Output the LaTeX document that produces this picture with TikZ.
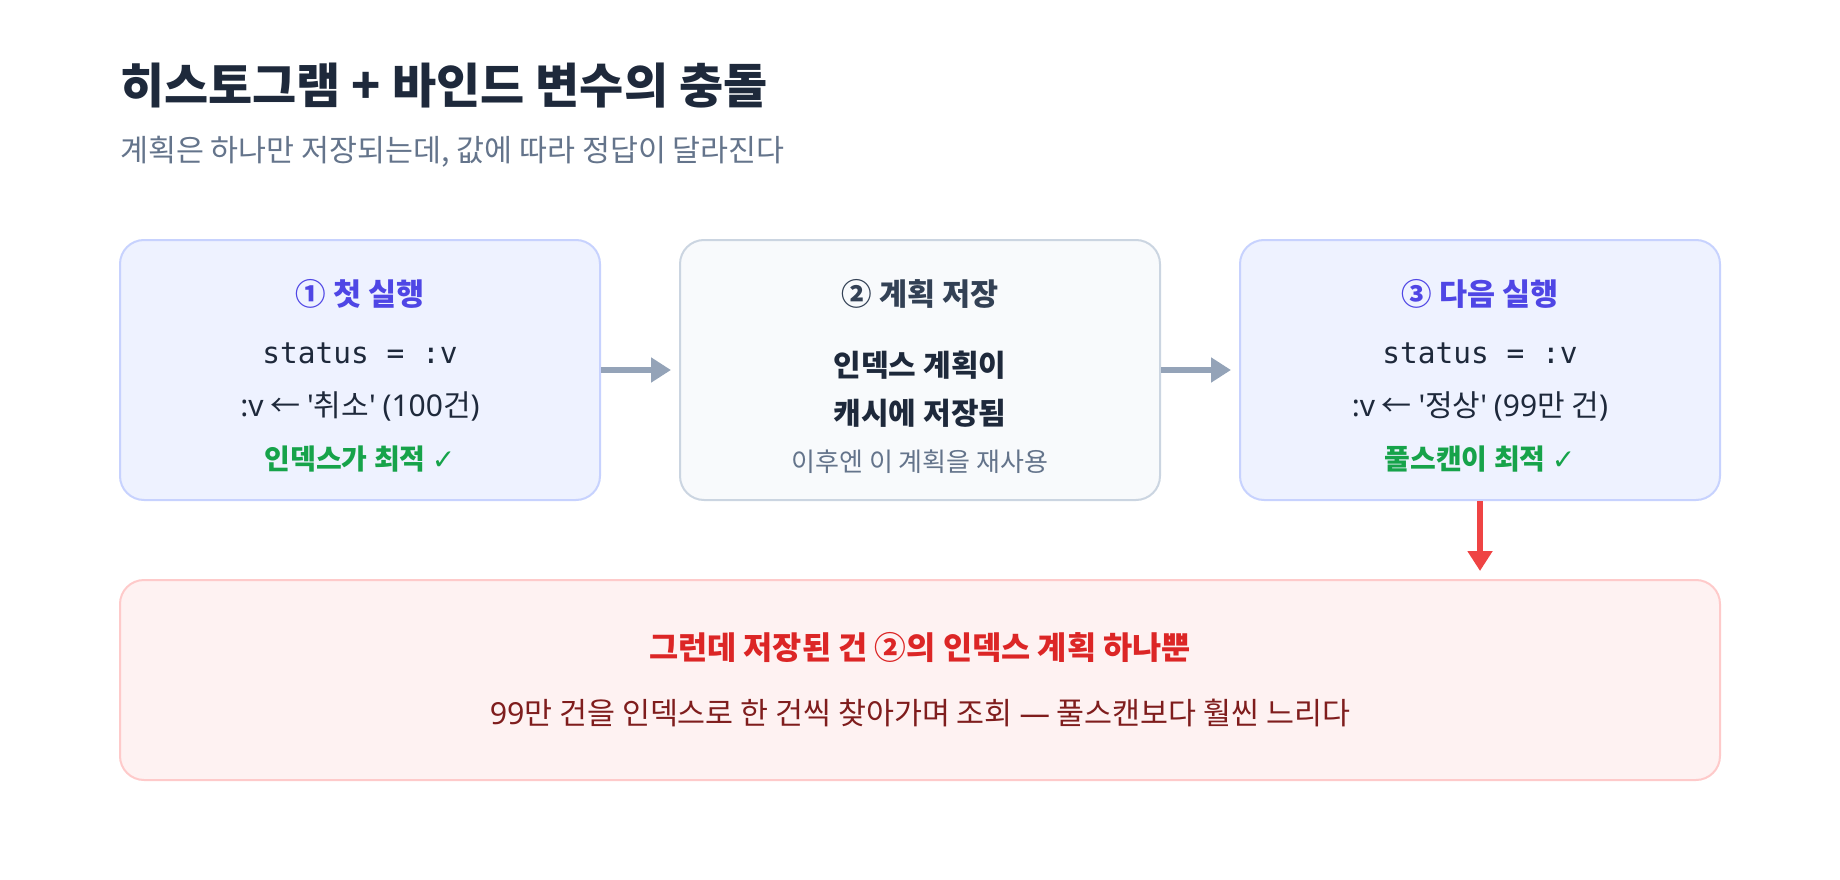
\documentclass[tikz,border=0pt]{standalone}
\usepackage{fontspec}
\setmainfont{Noto Sans CJK KR}
\newfontfamily\codefont{DejaVu Sans Mono}
\newfontfamily\tickfont{DejaVu Sans}
\newfontfamily\latfont{Noto Sans}
\usetikzlibrary{arrows.meta}

\definecolor{inkdark}{HTML}{1E293B}
\definecolor{inkslate}{HTML}{334155}
\definecolor{inkgray}{HTML}{64748B}
\definecolor{runfill}{HTML}{EEF2FF}
\definecolor{runline}{HTML}{C7D2FE}
\definecolor{runhead}{HTML}{4F46E5}
\definecolor{planfill}{HTML}{F8FAFC}
\definecolor{planline}{HTML}{CBD5E1}
\definecolor{okgreen}{HTML}{16A34A}
\definecolor{flowgray}{HTML}{94A3B8}
\definecolor{alarmred}{HTML}{EF4444}
\definecolor{warnfill}{HTML}{FEF2F2}
\definecolor{warnline}{HTML}{FECACA}
\definecolor{warnhead}{HTML}{DC2626}
\definecolor{warnbody}{HTML}{7F1D1D}

\newcommand{\fs}[1]{\fontsize{#1}{#1}\selectfont}
\newcommand{\sq}{{\latfont\textquotesingle}}

\tikzset{
  card/.style={draw=runline,fill=runfill,line width=2pt,rounded corners=24pt,
    minimum width=480pt,minimum height=260pt,inner sep=0pt},
  plancard/.style={card,draw=planline,fill=planfill},
  warncard/.style={card,draw=warnline,fill=warnfill,minimum width=1600pt,minimum height=200pt},
  txt/.style={inner sep=0pt,anchor=base},
  flow/.style={-{Triangle[length=20pt,width=24pt]},line width=6pt,draw=flowgray,shorten >=8pt},
  alarm/.style={-{Triangle[length=20pt,width=24pt]},line width=6pt,draw=alarmred,shorten >=8pt},
}

\begin{document}
\begin{tikzpicture}[x=1pt,y=1pt]
\useasboundingbox (0,0) rectangle (1840,-880);

\node [txt,anchor=base west,text=inkdark]  (title) at (120,-104) {\fs{48}\bfseries 히스토그램 + 바인드 변수의 충돌};
\node [txt,anchor=base west,text=inkgray]  (subtitle) at (120,-161) {\fs{30.4}계획은 하나만 저장되는데, 값에 따라 정답이 달라진다};

\node [card]  (run-first) at (360,-370) {};
\node [txt,text=runhead] (run-first-head) at (360,-305) {\fs{30.5}\bfseries ① 첫 실행};
\node [txt,text=inkdark] (run-first-code) at (360,-363) {\fs{29.5}\codefont status = :v};
\node [txt,text=inkdark] (run-first-bind) at (360,-416) {\fs{30}{\latfont :v} ← \sq 취소\sq{} {\latfont (100}건{\latfont )}};
\node [txt,text=okgreen] (run-first-ok) at (360,-469) {\fs{28}\bfseries 인덱스가 최적 {\tickfont ✓}};

\node [plancard]  (plan-cache) at (920,-370) {};
\node [txt,text=inkslate] (plan-cache-head) at (920,-305) {\fs{30.5}\bfseries ② 계획 저장};
\node [txt,text=inkdark] (plan-cache-l1) at (920,-376) {\fs{30}\bfseries 인덱스 계획이};
\node [txt,text=inkdark] (plan-cache-l2) at (920,-424) {\fs{30}\bfseries 캐시에 저장됨};
\node [txt,text=inkgray] (plan-cache-note) at (920,-471) {\fs{26}이후엔 이 계획을 재사용};

\node [card]  (run-next) at (1480,-370) {};
\node [txt,text=runhead] (run-next-head) at (1480,-305) {\fs{30.5}\bfseries ③ 다음 실행};
\node [txt,text=inkdark] (run-next-code) at (1480,-363) {\fs{29.5}\codefont status = :v};
\node [txt,text=inkdark] (run-next-bind) at (1480,-416) {\fs{30}{\latfont :v} ← \sq 정상\sq{} {\latfont (99}만 건{\latfont )}};
\node [txt,text=okgreen] (run-next-ok) at (1480,-469) {\fs{28}\bfseries 풀스캔이 최적 {\tickfont ✓}};

\draw [flow]   (run-first.east) -- (plan-cache.west);
\draw [flow]   (plan-cache.east) -- (run-next.west);

\node [warncard]  (warn-box) at (920,-680) {};
\node [txt,text=warnhead] (warn-head) at (920,-659) {\fs{31.7}\bfseries 그런데 저장된 건 ②의 인덱스 계획 하나뿐};
\node [txt,text=warnbody] (warn-body) at (920,-724) {\fs{30.4}{\latfont 99}만 건을 인덱스로 한 건씩 찾아가며 조회 {\latfont —} 풀스캔보다 훨씬 느리다};

\draw [alarm]   (run-next.south) -- (warn-box.north -| run-next.south);

%%%%%%%%%%%%%%%%%%%%%%%%%%%%%%%%%%%%%%%%%%%%%%%%%%%%%%%%%%%%%%%%%

\end{tikzpicture}
\end{document}
